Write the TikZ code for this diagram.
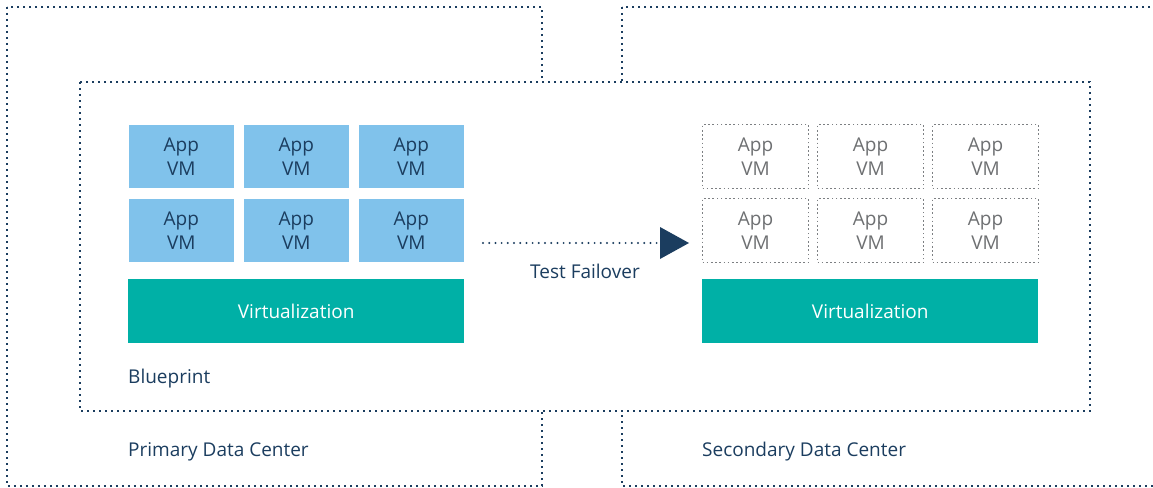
\documentclass[tikz,border=0pt]{standalone}
\usepackage{fontspec}
\setmainfont{Open Sans}
\usetikzlibrary{positioning}
\definecolor{navy}{HTML}{1B3D5F}
\definecolor{vmblue}{HTML}{80C2EB}
\definecolor{teal}{HTML}{00B0A6}
\definecolor{ghost}{HTML}{6E7072}
\definecolor{ghostline}{HTML}{7C7F82}
\tikzset{
  labelfont/.style={font=\fontsize{19}{24}\selectfont},
  region/.style={draw=navy, line width=1.4pt, dash pattern=on 1.6pt off 4.4pt},
  vmbox/.style={rectangle, fill=vmblue, draw=white, line width=0.6pt, minimum width=106pt, minimum height=64pt,
    anchor=north west, inner sep=0pt, align=center, text=navy, labelfont},
  ghostvm/.style={rectangle, draw=ghostline, line width=1pt, dash pattern=on 1.6pt off 2.6pt, minimum width=106pt, minimum height=64pt,
    anchor=north west, inner sep=0pt, align=center, text=ghost, labelfont},
  virt/.style={rectangle, fill=teal, minimum width=336pt, minimum height=64pt, anchor=north west, inner sep=0pt,
    text=white, labelfont},
  caption/.style={anchor=west, inner sep=0pt, text=navy, labelfont},
}
\begin{document}
\begin{tikzpicture}[x=1pt,y=-1pt]
\useasboundingbox (0,0) rectangle (1153,487);
\clip (0,0) rectangle (1153,487);
% data centers
\draw[region] (7,7) rectangle (542,486);
\draw[region] (622,7) rectangle (1160,486);
% blueprint area over both
\path[fill=white] (80,82) rectangle (1090,411);
\draw[region] (80,82) rectangle (1090,411);
% primary VMs
\node[vmbox] (p11) at (128,124) {App\\VM};
\node[vmbox] (p12) at (243,124) {App\\VM};
\node[vmbox] (p13) at (358,124) {App\\VM};
\node[vmbox] (p21) at (128,198) {App\\VM};
\node[vmbox] (p22) at (243,198) {App\\VM};
\node[vmbox] (p23) at (358,198) {App\\VM};
\node[virt] (pv) at (128,279) {Virtualization};
% secondary VMs (placeholders)
\node[ghostvm] (s11) at (702,124) {App\\VM};
\node[ghostvm] (s12) at (817,124) {App\\VM};
\node[ghostvm] (s13) at (932,124) {App\\VM};
\node[ghostvm] (s21) at (702,198) {App\\VM};
\node[ghostvm] (s22) at (817,198) {App\\VM};
\node[ghostvm] (s23) at (932,198) {App\\VM};
\node[virt] (sv) at (702,279) {Virtualization};
% failover arrow
\coordinate (fstart) at (483,243);
\coordinate (ftip) at (660,243);
\draw[navy, line width=2.2pt, line cap=round, dash pattern=on 0pt off 6.2pt] (fstart) -- (ftip);
\fill[navy] (660,227) -- (689,243) -- (660,259) -- cycle;
\node[text=navy, labelfont, inner sep=0pt] (fl) at (585,271) {Test Failover};
% captions
\node[caption] (bp) at (128,379) {Blueprint};
\node[caption] (pdc) at (128,452) {Primary Data Center};
\node[caption] (sdc) at (702,452) {Secondary Data Center};
\end{tikzpicture}
\end{document}
